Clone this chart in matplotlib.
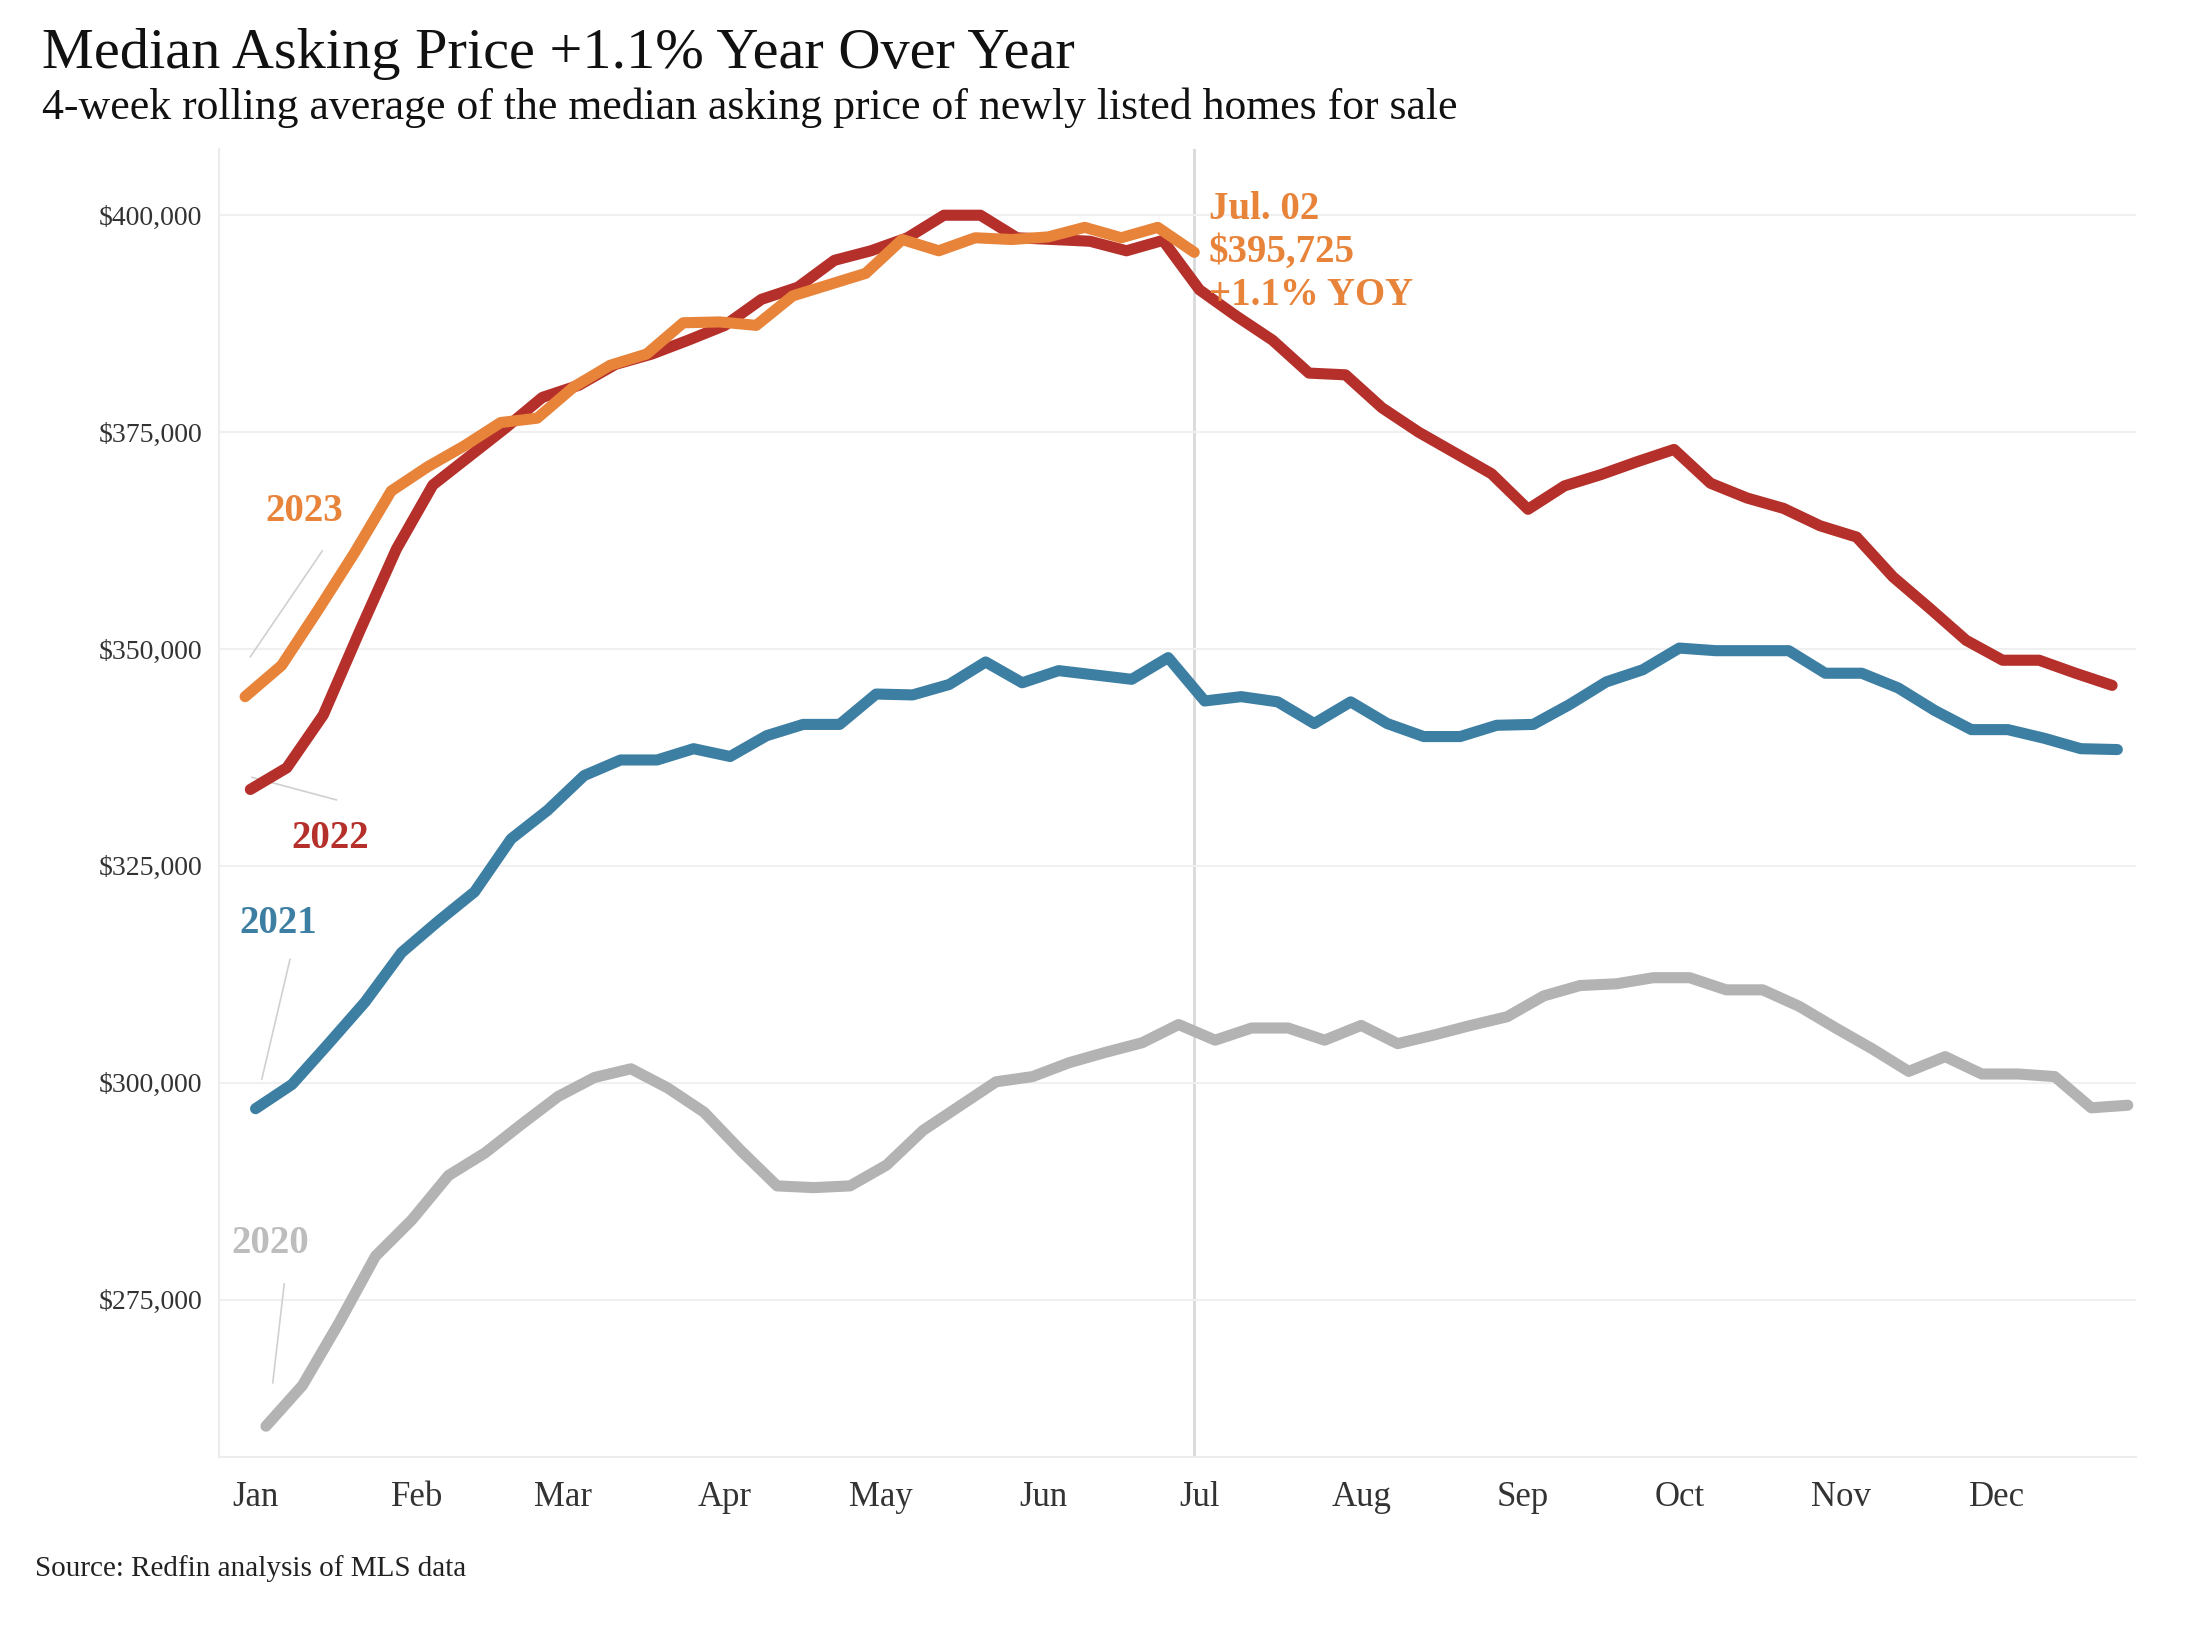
import pandas as pd
import matplotlib
matplotlib.use("Agg")
import matplotlib.pyplot as plt


SERIF = ["Liberation Serif", "DejaVu Serif"]

MONTHS = ["Jan", "Feb", "Mar", "Apr", "May", "Jun",
          "Jul", "Aug", "Sep", "Oct", "Nov", "Dec"]
MONTH_START_DOY = [0, 31, 59, 90, 120, 151, 181, 212, 243, 273, 304, 334]

Y_TICKS = [275000, 300000, 325000, 350000, 375000, 400000]

# weekly series, first week-ending date of each year
START_2020 = "2020-01-05"
START_2021 = "2021-01-03"
START_2022 = "2022-01-02"
START_2023 = "2023-01-01"

PRICE_2020 = [260400, 265100, 272300, 280000, 284200, 289300, 291900, 295200,
              298400, 300600, 301600, 299400, 296600, 292200, 288100, 287900,
              288100, 290500, 294500, 297300, 300100, 300700, 302300, 303500,
              304600, 306700, 304900, 306300, 306300, 304900, 306600, 304500,
              305500, 306600, 307600, 310000, 311200, 311400, 312100, 312100,
              310700, 310700, 308800, 306300, 303900, 301300, 303000, 301000,
              301000, 300700, 297100, 297400]

PRICE_2021 = [297000, 299800, 304500, 309300, 315000, 318600, 322000, 328100,
              331400, 335400, 337200, 337200, 338500, 337600, 340000, 341300,
              341300, 344800, 344700, 345900, 348500, 346100, 347500, 347000,
              346500, 349000, 344000, 344500, 343900, 341400, 343900, 341400,
              339900, 339900, 341200, 341300, 343600, 346200, 347600, 350100,
              349800, 349800, 349800, 347200, 347200, 345500, 342900, 340700,
              340700, 339700, 338500, 338400]

PRICE_2022 = [333800, 336300, 342400, 352100, 361500, 368900, 372200, 375500,
              379000, 380400, 382800, 384000, 385600, 387300, 390300, 391700,
              394800, 395900, 397400, 400000, 400000, 397400, 397200, 397000,
              395900, 397100, 391400, 388400, 385600, 381800, 381600, 377800,
              375000, 372600, 370200, 366100, 368800, 370100, 371600, 373000,
              369100, 367400, 366200, 364200, 362900, 358300, 354700, 351000,
              348700, 348700, 347200, 345800]

PRICE_2023 = [344500, 348100, 354500, 361100, 368200, 371000, 373400, 376100,
              376600, 380200, 382700, 384000, 387600, 387700, 387300, 390700,
              392000, 393300, 397200, 395900, 397400, 397200, 397500, 398600,
              397400, 398600, 395725]

COLORS = {"2020": "#b3b3b3", "2021": "#3d7fa3", "2022": "#b5302a", "2023": "#e8833a"}
LABEL_COLORS = {"2020": "#bdbdbd", "2021": "#3d7fa3", "2022": "#b5302a", "2023": "#e8833a"}


def day_of_year(start, n):
    dates = pd.date_range(start, periods=n, freq="7D")
    jan1 = pd.Timestamp(year=dates[0].year, month=1, day=1)
    return [(d - jan1).days for d in dates]


def plot_chart():
    fig = plt.figure(figsize=(22.08, 16.44), dpi=100)
    ax = fig.add_axes([0.0992, 0.1135, 0.8680, 0.7959])

    series = [("2020", START_2020, PRICE_2020),
              ("2021", START_2021, PRICE_2021),
              ("2022", START_2022, PRICE_2022),
              ("2023", START_2023, PRICE_2023)]

    for year, start, vals in series:
        x = day_of_year(start, len(vals))
        ax.plot(x, vals, color=COLORS[year], lw=8,
                solid_capstyle="round", solid_joinstyle="round", zorder=3)

    last_x = day_of_year(START_2023, len(PRICE_2023))[-1]
    ax.axvline(last_x, color="#d9d9d9", lw=2, zorder=1)

    ax.set_xlim(-5, 362.5)
    ax.set_ylim(256800, 407640)

    ax.set_yticks(Y_TICKS)
    ax.set_yticklabels(["${:,}".format(v) for v in Y_TICKS])
    ax.set_xticks([d + 2 for d in MONTH_START_DOY])
    ax.set_xticklabels(MONTHS)
    ax.tick_params(axis="y", length=0, pad=12, labelsize=20, labelcolor="#333333")
    ax.tick_params(axis="x", length=0, pad=17, labelsize=25, labelcolor="#333333")
    for lab in ax.get_xticklabels() + ax.get_yticklabels():
        lab.set_family(SERIF)

    ax.grid(axis="y", color="#f0f0f0", lw=1.5, zorder=0)
    for side in ["top", "right"]:
        ax.spines[side].set_visible(False)
    for side in ["left", "bottom"]:
        ax.spines[side].set_color("#ececec")
        ax.spines[side].set_linewidth(1.5)

    # year labels with thin leader lines
    labels = {"2023": (11.3, 365900, (1.0, 14.8), (349100, 361300)),
              "2022": (16.4, 328200, (1.3, 17.5), (335200, 332600)),
              "2021": (6.4, 318300, (3.2, 8.6), (300400, 314200)),
              "2020": (4.8, 281500, (5.3, 7.5), (265400, 276800))}
    for year, (tx, ty, lx, ly) in labels.items():
        ax.plot(lx, ly, color="#d0d0d0", lw=1.2, zorder=2)
        ax.text(tx, ty, year, color=LABEL_COLORS[year], fontsize=28,
                fontweight="bold", family=SERIF, ha="center", va="center")

    ax.text(last_x + 2.8, PRICE_2023[-1], "Jul. 02\n$395,725\n+1.1% YOY",
            color=COLORS["2023"], fontsize=28, fontweight="bold", family=SERIF,
            ha="left", va="center", linespacing=1.22, zorder=4)

    fig.text(42 / 2208, 1 - 68 / 1644, "Median Asking Price +1.1% Year Over Year",
             fontsize=42, family=SERIF, color="#111111", va="baseline")
    fig.text(42 / 2208, 1 - 119 / 1644,
             "4-week rolling average of the median asking price of newly listed homes for sale",
             fontsize=31.5, family=SERIF, color="#111111", va="baseline")
    fig.text(35 / 2208, 1 - 1576 / 1644, "Source: Redfin analysis of MLS data",
             fontsize=21, family=SERIF, color="#222222", va="baseline")

    fig.savefig("out.png", dpi=100, facecolor="white")


if __name__ == "__main__":
    plot_chart()
